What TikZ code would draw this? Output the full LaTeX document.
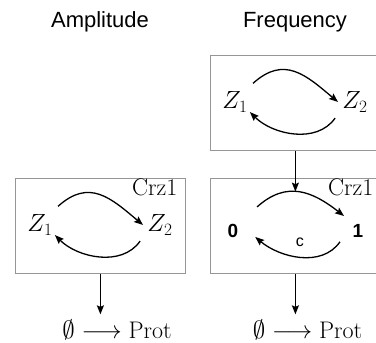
\documentclass[tikz,border=0pt]{standalone}
\usepackage{fontspec}
\newfontfamily\hvfont{Liberation Sans}
\usetikzlibrary{arrows.meta,calc}
\definecolor{boxgray}{RGB}{150,150,150}
\begin{document}
\begin{tikzpicture}[x=1pt,y=1pt,
  bx/.style={draw=boxgray,line width=0.8pt,rectangle,minimum width=170pt,minimum height=95pt,anchor=north west,inner sep=0pt},
  lm/.style={font=\fontsize{24}{28}\selectfont,inner sep=0pt},
  ttl/.style={font=\hvfont\fontsize{22}{26}\selectfont,inner sep=0pt,anchor=base},
  bit/.style={font=\hvfont\bfseries\fontsize{19}{22}\selectfont,inner sep=0pt},
  lbl/.style={font=\hvfont\fontsize{16}{18}\selectfont,inner sep=0pt},
  arr/.style={-{Stealth[length=9pt,width=7pt,inset=1.5pt]},line width=1.3pt},
]
\useasboundingbox (0,0) rectangle (376,-343);
\node[ttl] (amp) at (100,-27) {Amplitude};
\node[ttl] (freq) at (295,-27) {Frequency};

% top box
\node[bx] (tb) at (210,-55) {};
\node[lm] (tz1) at ($(tb.north west)+(25,-47)$) {$Z_1$};
\node[lm] (tz2) at ($(tb.north west)+(145,-47)$) {$Z_2$};
\draw[arr] ($(tz1.center)+(46:26)$) to[out=42,in=140,distance=42pt] ($(tz2.center)+(180:17)$);
\draw[arr] ($(tz2.center)+(219:25.6)$) to[out=-125,in=-45,distance=32pt] ($(tz1.center)+(-34:18)$);

% bottom left box
\node[bx] (lb) at (15,-178) {};
\node[lm] (lz1) at ($(lb.north west)+(25,-47)$) {$Z_1$};
\node[lm] (lz2) at ($(lb.north west)+(145,-47)$) {$Z_2$};
\node[lm,anchor=base west] (lcrz) at ($(lb.north west)+(117,-17)$) {Crz1};
\draw[arr] ($(lz1.center)+(46:26)$) to[out=42,in=140,distance=42pt] ($(lz2.center)+(180:17)$);
\draw[arr] ($(lz2.center)+(219:25.6)$) to[out=-125,in=-45,distance=32pt] ($(lz1.center)+(-34:18)$);

% bottom right box
\node[bx] (rb) at (210,-178) {};
\node[bit] (r0) at ($(rb.north west)+(23,-53)$) {0};
\node[bit] (r1) at ($(rb.north west)+(148,-53)$) {1};
\node[lm,anchor=base west] (rcrz) at ($(rb.north west)+(118,-17)$) {Crz1};
\draw[arr] ($(r0.center)+(45:34)$) to[out=42,in=142,distance=40pt] coordinate[pos=0.45] (rpk) ($(r1.center)+(133:20.5)$);
\draw[arr] ($(r1.center)+(211:21)$) to[out=-125,in=-40,distance=32pt] node[lbl,midway,above=10pt] (clab) {c} ($(r0.center)+(-15:23)$);

% reactions
\node[lm,anchor=base,outer sep=5pt] (lp) at (117,-338) {$\emptyset\longrightarrow\mathrm{Prot}$};
\node[lm,anchor=base,outer sep=5pt] (rp) at (307.5,-338) {$\emptyset\longrightarrow\mathrm{Prot}$};

% vertical arrows
\draw[arr] (tb.south) -- (tb.south |- rpk);
\draw[arr] (lb.south) -- (lb.south |- lp.north);
\draw[arr] (rb.south) -- (rb.south |- rp.north);
\end{tikzpicture}
\end{document}
